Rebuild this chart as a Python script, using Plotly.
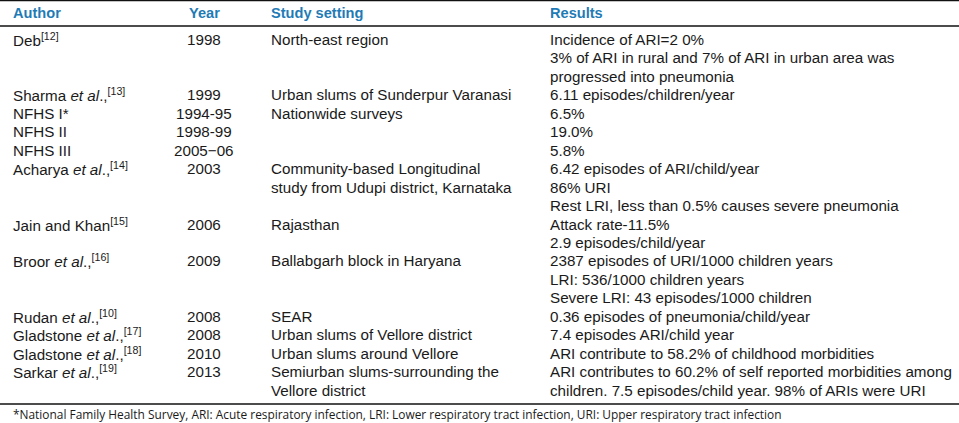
import plotly.graph_objects as go

headers = ["Author", "Year", "Study setting", "Results"]

authors = [
    "Deb<sup>[12]</sup>",
    "Sharma <i>et al</i>.,<sup>[13]</sup>",
    "NFHS I*",
    "NFHS II",
    "NFHS III",
    "Acharya <i>et al</i>.,<sup>[14]</sup>",
    "Jain and Khan<sup>[15]</sup>",
    "Broor <i>et al</i>.,<sup>[16]</sup>",
    "Rudan <i>et al</i>.,<sup>[10]</sup>",
    "Gladstone <i>et al</i>.,<sup>[17]</sup>",
    "Gladstone <i>et al</i>.,<sup>[18]</sup>",
    "Sarkar <i>et al</i>.,<sup>[19]</sup>",
]
years = ["1998", "1999", "1994-95", "1998-99", "2005\u221206", "2003", "2006", "2009",
         "2008", "2008", "2010", "2013"]
settings = [
    ["North-east region"],
    ["Urban slums of Sunderpur Varanasi"],
    ["Nationwide surveys"],
    [],
    [],
    ["Community-based Longitudinal", "study from Udupi district, Karnataka"],
    ["Rajasthan"],
    ["Ballabgarh block in Haryana"],
    ["SEAR"],
    ["Urban slums of Vellore district"],
    ["Urban slums around Vellore"],
    ["Semiurban slums-surrounding the", "Vellore district"],
]
results = [
    ["Incidence of ARI=2 0%", "3% of ARI in rural and 7% of ARI in urban area was",
     "progressed into pneumonia"],
    ["6.11 episodes/children/year"],
    ["6.5%"],
    ["19.0%"],
    ["5.8%"],
    ["6.42 episodes of ARI/child/year", "86% URI",
     "Rest LRI, less than 0.5% causes severe pneumonia"],
    ["Attack rate-11.5%", "2.9 episodes/child/year"],
    ["2387 episodes of URI/1000 children years", "LRI: 536/1000 children years",
     "Severe LRI: 43 episodes/1000 children"],
    ["0.36 episodes of pneumonia/child/year"],
    ["7.4 episodes ARI/child year"],
    ["ARI contribute to 58.2% of childhood morbidities"],
    ["ARI contributes to 60.2% of self reported morbidities among",
     "children. 7.5 episodes/child year. 98% of ARIs were URI"],
]
footnote = ("*National Family Health Survey, ARI: Acute respiratory infection, "
            "LRI: Lower respiratory tract infection, URI: Upper respiratory tract infection")

W, H = 959, 423
col_x = [11, 204, 269, 548]
header_y = 13
first_y = 39.5
line_h = 18.45
body_font = dict(family="Liberation Sans, Arial", size=15.2, color="#1a1a1a")
head_font = dict(family="Liberation Sans, Arial", size=14.6, color="#1f7bb6")

fig = go.Figure()
fig.add_trace(go.Scatter(x=[0, W], y=[0, H], mode="markers",
                         marker=dict(opacity=0), hoverinfo="skip", showlegend=False))

anns = []
for i, h in enumerate(headers):
    anns.append(dict(x=col_x[i], y=header_y, text="<b>%s</b>" % h,
                     xanchor="center" if i == 1 else "left", yanchor="middle",
                     font=head_font))

line = 0
for a, yr, st, rs in zip(authors, years, settings, results):
    y0 = first_y + line * line_h
    anns.append(dict(x=col_x[0], y=y0, text=a, xanchor="left", yanchor="middle", font=body_font))
    anns.append(dict(x=col_x[1], y=y0, text=yr, xanchor="center", yanchor="middle", font=body_font))
    for k, s in enumerate(st):
        anns.append(dict(x=col_x[2], y=y0 + k * line_h, text=s, xanchor="left",
                         yanchor="middle", font=body_font))
    for k, s in enumerate(rs):
        anns.append(dict(x=col_x[3], y=y0 + k * line_h, text=s, xanchor="left",
                         yanchor="middle", font=body_font))
    line += max(1, len(st), len(rs))

anns.append(dict(x=11, y=413.5, text=footnote, xanchor="left", yanchor="middle",
                 font=dict(family="Open Sans", size=11.9, color="#1a1a1a")))

for a in anns:
    a.update(xref="x", yref="y", showarrow=False)

shapes = [
    dict(type="line", x0=0, x1=W, y0=0.5, y1=0.5, line=dict(color="#111", width=1.5)),
    dict(type="line", x0=0, x1=W, y0=26, y1=26, line=dict(color="#111", width=1.5)),
    dict(type="line", x0=0, x1=W, y0=404, y1=404, line=dict(color="#111", width=1.5)),
]
for s in shapes:
    s.update(xref="x", yref="y")

fig.update_layout(
    width=W, height=H, margin=dict(l=0, r=0, t=0, b=0),
    paper_bgcolor="white", plot_bgcolor="white",
    xaxis=dict(range=[0, W], visible=False, fixedrange=True),
    yaxis=dict(range=[H, 0], visible=False, fixedrange=True),
    annotations=anns, shapes=shapes, showlegend=False,
)
fig.write_html("out.html", config={"displayModeBar": False},
               post_script="document.body.style.margin='0';document.body.style.overflow='hidden';")
